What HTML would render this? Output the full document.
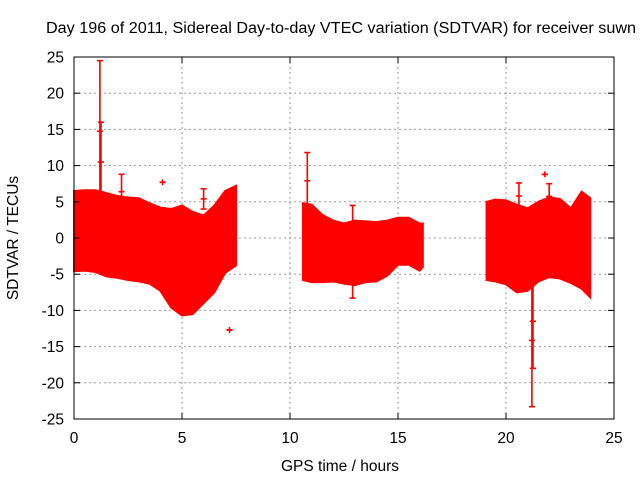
<!DOCTYPE html>
<html><head><meta charset="utf-8"><style>
html,body{margin:0;padding:0;background:#fff;}
svg{display:block;font-family:"Liberation Sans",sans-serif;}
</style></head><body>
<svg id="chart" width="640" height="480" viewBox="0 0 640 480" xmlns="http://www.w3.org/2000/svg">
<rect width="640" height="480" fill="#fff"/>
<g id="grid"></g>
<g id="series"></g>
<g id="axes"></g>
<text x="46" y="33" font-size="15.5" textLength="590" lengthAdjust="spacingAndGlyphs">Day 196 of 2011, Sidereal Day-to-day VTEC variation (SDTVAR) for receiver suwn</text>
<text x="340" y="471" font-size="15.5" text-anchor="middle">GPS time / hours</text>
<text transform="translate(18,238) rotate(-90)" font-size="15.5" text-anchor="middle">SDTVAR / TECUs</text>
</svg>
<script>
const xTicks=[0,5,10,15,20,25];
const yTicks=[-25,-20,-15,-10,-5,0,5,10,15,20,25];
// segment 1 envelope
const seg1Time=[0,0.5,1,1.5,2,2.5,3,3.5,4,4.5,5,5.5,6,6.5,7,7.5];
const seg1Upper=[6.5,6.6,6.6,6.2,5.8,5.6,5.5,4.8,4.2,4.0,4.5,3.6,3.1,4.5,6.5,7.2];
const seg1Lower=[-4.6,-4.5,-4.7,-5.3,-5.5,-5.8,-6.0,-6.3,-7.3,-9.6,-10.7,-10.5,-9.0,-7.5,-4.8,-3.8];
// segment 2 envelope
const seg2Time=[10.6,11,11.5,12,12.5,13,13.5,14,14.5,15,15.5,16,16.15];
const seg2Upper=[4.8,4.6,3.2,2.4,2.0,2.4,2.3,2.2,2.4,2.8,2.8,2.0,2.0];
const seg2Lower=[-5.8,-6.1,-6.1,-6.0,-6.3,-6.5,-6.1,-6.0,-5.2,-3.7,-3.7,-4.5,-4.0];
// segment 3 envelope
const seg3Time=[19.1,19.5,20,20.5,21,21.5,22,22.5,23,23.5,23.9];
const seg3Upper=[5.0,5.3,5.2,4.6,4.1,5.0,5.6,5.4,4.1,6.4,5.5];
const seg3Lower=[-5.8,-6.0,-6.4,-7.5,-7.3,-6.0,-5.4,-5.6,-6.2,-7.0,-8.2];
// isolated spikes: time, top, bottom
const spikeTime=[1.2,1.25,2.2,4.1,6.0,7.2,10.8,12.9,21.2,21.25,21.8,20.6,22.0];
const spikeTop=[24.5,16,8.8,7.7,6.8,-12.7,11.8,4.5,-5,-5,8.8,7.6,7.5];
const spikeBot=[5,5,4,7.7,4,-12.7,4,-8.3,-23.3,-18,8.8,4,4];

const X0=74,X1=614,Y0=419,Y1=57;
const xs=v=>X0+(v-0)/25*(X1-X0);
const ys=v=>Y0-(v+25)/50*(Y0-Y1);
const NS="http://www.w3.org/2000/svg";
function mk(tag,attrs,parent){const e=document.createElementNS(NS,tag);for(const k in attrs)e.setAttribute(k,attrs[k]);parent.appendChild(e);return e;}
const grid=document.getElementById('grid'),axes=document.getElementById('axes'),series=document.getElementById('series');
xTicks.forEach(t=>{
  const x=xs(t);
  if(t>0&&t<25){const l=mk('line',{x1:x,x2:x,y1:Y1,y2:Y0,stroke:'#999','stroke-dasharray':'2,3','stroke-width':1},grid);
  
  }
  mk('line',{x1:x,x2:x,y1:Y0,y2:Y0-6,stroke:'#000'},axes);
  mk('line',{x1:x,x2:x,y1:Y1,y2:Y1+6,stroke:'#000'},axes);
  const tx=mk('text',{x:x,y:443,'font-size':15.5,'text-anchor':'middle'},axes);tx.textContent=t;
  
  
});
yTicks.forEach(t=>{
  const y=ys(t);
  if(t>-25&&t<25){const l=mk('line',{x1:X0,x2:X1,y1:y,y2:y,stroke:'#999','stroke-dasharray':'2,3','stroke-width':1},grid);
  
  }
  mk('line',{x1:X0,x2:X0+6,y1:y,y2:y,stroke:'#000'},axes);
  mk('line',{x1:X1,x2:X1-6,y1:y,y2:y,stroke:'#000'},axes);
  const tx=mk('text',{x:64,y:y+5.5,'font-size':15.5,'text-anchor':'end'},axes);tx.textContent=t;
  
  
});
const border=mk('rect',{x:X0,y:Y1,width:X1-X0,height:Y0-Y1,fill:'none',stroke:'#000','stroke-width':1},axes);


[[seg1Time,seg1Upper,seg1Lower],[seg2Time,seg2Upper,seg2Lower],[seg3Time,seg3Upper,seg3Lower]].forEach((s,i)=>{
  const [t,u,l]=s;let pts=[];
  t.forEach((v,j)=>pts.push(xs(v)+','+ys(u[j])));
  for(let j=t.length-1;j>=0;j--)pts.push(xs(t[j])+','+ys(l[j]));
  const p=mk('polygon',{points:pts.join(' '),fill:'#f00',stroke:'#f00','stroke-width':2},series);
  
  
});
spikeTime.forEach((t,i)=>{
  const x=xs(t),a=ys(spikeTop[i]),b=ys(spikeBot[i]);
  const g=mk('g',{stroke:'#f00','stroke-width':1.6},series);
  
  
  mk('line',{x1:x,x2:x,y1:a,y2:b,stroke:'#f00'},g);
  mk('line',{x1:x-3,x2:x+3,y1:a,y2:a,stroke:'#f00'},g);
  mk('line',{x1:x-3,x2:x+3,y1:b,y2:b,stroke:'#f00'},g);
  mk('line',{x1:x-3,x2:x+3,y1:(a+b)/2,y2:(a+b)/2,stroke:'#f00'},g);
  if(a===b)mk('line',{x1:x,x2:x,y1:a-3,y2:a+3,stroke:'#f00'},g);
});
</script>
</body></html>
